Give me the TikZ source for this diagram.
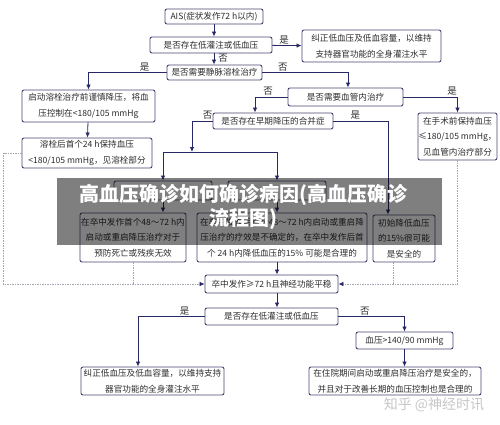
\documentclass[tikz,border=0pt]{standalone}
\usepackage{fontspec}
\setmainfont{Noto Sans CJK SC}
\usepackage{tikz}
\usetikzlibrary{arrows.meta,positioning,calc}
\definecolor{navy}{RGB}{40,40,100}
\definecolor{framecol}{RGB}{70,70,115}
\definecolor{dashcol}{RGB}{165,165,178}
\definecolor{txtcol}{RGB}{45,45,45}
\tikzset{>={Latex[length=5pt,width=4.5pt]}}

\begin{document}
\begin{tikzpicture}[x=1pt,y=-1pt,
    box/.style={draw=framecol,rounded corners=2pt,line width=0.9pt,fill=white,align=center,inner sep=0pt,text=txtcol,font=\fontsize{8.6}{15.5}\selectfont},
    flow/.style={->,line width=0.8pt,navy},
    dotflow/.style={line width=0.7pt,dashcol,dash pattern=on 1.5pt off 1pt},
    dotarrow/.style={dotflow,-{Latex[length=5pt,width=4.5pt,color=navy]}},
    yesno/.style={text=txtcol,font=\fontsize{9.5}{10}\selectfont,inner sep=1pt}]
    \useasboundingbox (0,0) rectangle (500,425);
    % first stage
    \node[box,minimum width=98,minimum height=15] at (214,16.5) (ais) {AIS(症状发作72 h以内)};
    \node[box,minimum width=122,minimum height=16] at (211,45) (hypo1) {是否存在低灌注或低血压};
    \node[box,minimum width=139,minimum height=32] at (371.5,46) (fix1) {纠正低血压及低血容量，以维持\\支持器官功能的全身灌注水平};
    \node[box,minimum width=95,minimum height=15] at (214.5,72.5) (ivt) {是否需要静脉溶栓治疗};
    \node[box,minimum width=133,minimum height=32] at (88.5,106) (prelow) {启动溶栓治疗前谨慎降压，将血\\压控制在<180/105 mmHg};
    \node[box,minimum width=130,minimum height=30] at (87,153) (post24) {溶栓后首个24 h保持血压\\<180/105 mmHg，见溶栓部分};
    \node[box,minimum width=115,minimum height=18] at (345.5,97) (evt) {是否需要血管内治疗};
    \node[box,minimum width=120,minimum height=16] at (273,121) (comorb) {是否存在早期降压的合并症};
    \node[box,minimum width=79,minimum height=47] at (457.5,136.5) (preop) {在手术前保持血压\\≤180/105 mmHg，\\见血管内治疗部分};
    % boxes under the banner
    \node[box,minimum width=98,minimum height=19] at (163,190.5) (hidA) {};
    \node[box,minimum width=98,minimum height=19] at (277,190.5) (hidB) {};
    \node[box,minimum width=106,minimum height=49] at (133,237.5) (noeff) {在卒中发作首个48～72 h内\\启动或重启降压治疗对于\\预防死亡或残疾无效};
    \node[box,minimum width=170,minimum height=49] at (282,237.5) (uncert) {在卒中发作后首个48～72 h内启动或重启降\\压治疗的疗效是不确定的，在卒中发作后首\\个 24 h内降低血压的15\% 可能是合理的};
    \node[box,minimum width=62,minimum height=47] at (404,238.5) (safe15) {初始降低血压\\的15\%很可能\\是安全的};
    % second stage
    \node[box,minimum width=133,minimum height=18] at (271.5,284) (stable) {卒中发作≥72 h且神经功能平稳};
    \node[box,minimum width=133,minimum height=17] at (271.5,316.5) (hypo2) {是否存在低灌注或低血压};
    \node[box,minimum width=143,minimum height=28] at (152.5,381) (fix2) {纠正低血压及低血容量，以维持支持\\器官功能的全身灌注水平};
    \node[box,minimum width=97,minimum height=17] at (404.5,340.5) (bp140) {血压>140/90 mmHg};
    \node[box,minimum width=172,minimum height=28] at (395,381) (inhosp) {在住院期间启动或重启降压治疗是安全的，\\并且对于改善长期的血压控制也是合理的};
    \coordinate (split) at (192,152);
    \coordinate (spine) at (277,0);
    % connectors
    \draw[flow] (ais) -- (ais |- hypo1.north);
    \draw[flow] (hypo1) -- (fix1) node[yesno,pos=0.4,above] {是};
    \draw[flow] (ais |- hypo1.south) -- (ais |- ivt.north) node[yesno,pos=0.45,right=3pt] {否};
    \draw[flow] (ivt.west) -| (prelow.north) node[yesno,pos=0.14,above] {是};
    \draw[flow] (ivt.east) -| ([xshift=2.5]evt.north) node[yesno,pos=0.12,above] {否};
    \draw[flow] (prelow) -- (post24);
    \draw[flow] (evt.west) -| ([xshift=-18]comorb.north) node[yesno,pos=0.3,above] {否};
    \draw[flow] (evt.east) -| (preop.north) node[yesno,pos=0.45,above] {是};
    \draw[flow] (comorb.west) -| (split) node[yesno,pos=0.12,above] {否};
    \draw[flow] (comorb.east) -| ([xshift=-16]safe15.north) node[yesno,pos=0.2,above] {是};
    \draw[line width=0.8pt,navy] (split -| hidA.north) -- (split -| hidB.north);
    \draw[flow] (split -| hidA.north) -- (hidA.north);
    \draw[flow] (split -| hidB.north) -- (hidB.north);
    \draw[flow] (hidA.south) -- (hidA.south |- noeff.north);
    \draw[flow] (hidB.south) -- (hidB.south |- uncert.north);
    \draw[flow] (spine |- uncert.south) -- (spine |- stable.north);
    \draw[dotarrow] (post24.west) -- ++(-18,0) |- (stable.west);
    \draw[dotflow] (noeff.south) -- (noeff.south |- stable.west);
    \draw[dotarrow] (preop.south) |- (stable.east);
    \draw[dotflow] ([xshift=-11]safe15.south) -- ([xshift=-11]safe15.south |- stable.east);
    \draw[flow] (spine |- stable.south) -- (spine |- hypo2.north);
    \draw[flow] (hypo2.west) -| ([xshift=-14.5]fix2.north) node[yesno,pos=0.15,above] {是};
    \draw[flow] (hypo2.east) -| (bp140.north) node[yesno,pos=0.2,above] {否};
    \draw[flow] (bp140) -- (bp140 |- inhosp.north);
    % banner and mark
    \fill[black,opacity=0.5] (57,178) rectangle (442,245);
    \node[text=white,align=center,font=\fontsize{20}{24}\bfseries] at (243,207) (title) {高血压确诊如何确诊病因(高血压确诊\\流程图)};
    \node[text=black!22,font=\fontsize{14}{14}\selectfont] at (434,405) (mark) {知乎 @神经时讯};
\end{tikzpicture}
\end{document}
